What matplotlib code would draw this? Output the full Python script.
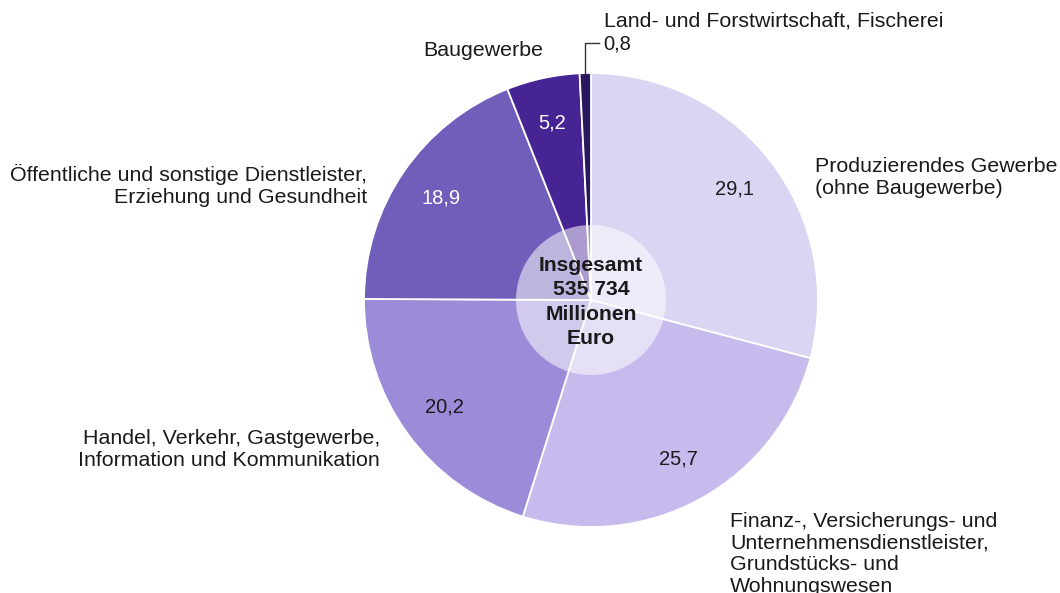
import matplotlib.pyplot as plt
from matplotlib.patches import Circle
import numpy as np

plt.rcParams["font.family"] = ["Liberation Sans", "DejaVu Sans"]

# Bruttowertschöpfung nach Wirtschaftsbereichen, Anteile in %
branchen = ["Produzierendes Gewerbe\n(ohne Baugewerbe)",
            "Finanz-, Versicherungs- und\nUnternehmensdienstleister,\nGrundstücks- und\nWohnungswesen",
            "Handel, Verkehr, Gastgewerbe,\nInformation und Kommunikation",
            "Öffentliche und sonstige Dienstleister,\nErziehung und Gesundheit",
            "Baugewerbe",
            "Land- und Forstwirtschaft, Fischerei"]
anteile = [29.1, 25.7, 20.2, 18.9, 5.2, 0.8]
farben = ["#dad5f3", "#c6bbec", "#9b8bd8", "#715dba", "#472494", "#2b1660"]
wertfarben = ["#1a1a1a", "#1a1a1a", "#1a1a1a", "white", "white", "#1a1a1a"]
mitte_text = "Insgesamt\n535 734\nMillionen\nEuro"

W, H = 1060, 593
fig = plt.figure(figsize=(W / 100, H / 100), dpi=100)
ax = fig.add_axes([0, 0, 1, 1])

cx, cy, r = 591, H - 300, 227
wedges, _ = ax.pie(anteile, colors=farben, startangle=90, counterclock=False,
                   center=(cx, cy), radius=r, frame=True,
                   wedgeprops=dict(edgecolor="white", linewidth=1.3))
ax.set_xlim(0, W)
ax.set_ylim(0, H)
ax.set_aspect("equal")
ax.axis("off")

# Werte in den Segmenten
fs_wert = 14.5
for w, v, c in zip(wedges[:-1], anteile[:-1], wertfarben[:-1]):
    ang = np.deg2rad((w.theta1 + w.theta2) / 2)
    ax.text(cx + 0.8 * r * np.cos(ang), cy + 0.8 * r * np.sin(ang),
            f"{v:.1f}".replace(".", ","), ha="center", va="center",
            fontsize=fs_wert, color=c)

# kleiner Wert mit Führungslinie
w = wedges[-1]
ang = np.deg2rad((w.theta1 + w.theta2) / 2)
x0 = cx + r * np.cos(ang)
y0 = cy + r * np.sin(ang)
ax.plot([x0, x0, x0 + 14], [y0, H - 43, H - 43], color="#333333", lw=1)
ax.text(x0 + 18, H - 44, f"{anteile[-1]:.1f}".replace(".", ","),
        ha="left", va="center", fontsize=fs_wert, color="#1a1a1a")

# Beschriftungen
fs = 15.4
ls = 1.22
ax.text(815, H - 157, branchen[0], ha="left", va="top", fontsize=fs,
        linespacing=ls, color="#1a1a1a")
ax.text(730, H - 512, branchen[1], ha="left", va="top", fontsize=fs,
        linespacing=1.17, color="#1a1a1a")
ax.text(380, H - 429, branchen[2], ha="right", va="top", fontsize=fs,
        linespacing=ls, color="#1a1a1a", multialignment="right")
ax.text(367, H - 164, branchen[3], ha="right", va="top", fontsize=fs,
        linespacing=ls, color="#1a1a1a", multialignment="right")
ax.text(483, H - 51, branchen[4], ha="center", va="center", fontsize=fs,
        color="#1a1a1a")
ax.text(604, H - 21, branchen[5], ha="left", va="center", fontsize=fs,
        color="#1a1a1a")

# Mittelkreis
ax.add_patch(Circle((cx, cy), 75, facecolor="white", alpha=0.55,
                    edgecolor="none", zorder=3))
ax.text(cx, cy - 2, mitte_text, ha="center", va="center", fontsize=15.2,
        fontweight="bold", linespacing=1.36, color="#1a1a1a", zorder=4)

fig.savefig("out.png", dpi=100)
